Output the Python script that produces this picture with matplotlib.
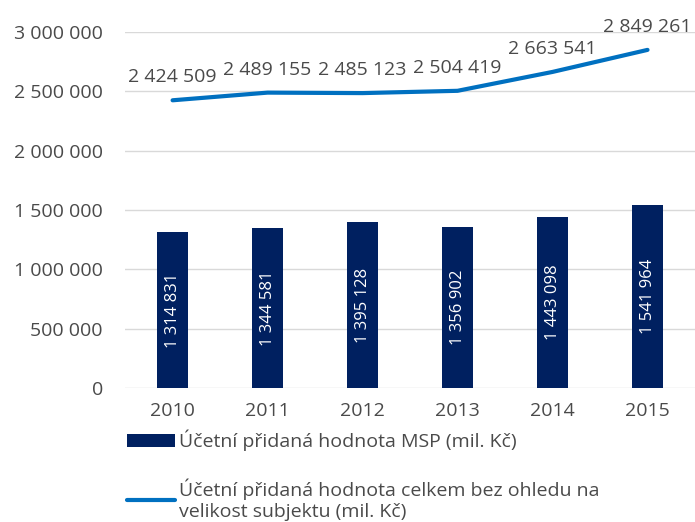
import matplotlib.pyplot as plt
from matplotlib.ticker import FuncFormatter

# Data
years = ['2010', '2011', '2012', '2013', '2014', '2015']
msp_values = [1314831, 1344581, 1395128, 1356902, 1443098, 1541964]
total_values = [2424509, 2489155, 2485123, 2504419, 2663541, 2849261]

msp_label = 'Účetní přidaná hodnota MSP (mil. Kč)'
total_label = 'Účetní přidaná hodnota celkem bez ohledu na\nvelikost subjektu (mil. Kč)'


def fmt(v):
    return f'{int(v):,}'.replace(',', ' ')


plt.rcParams['font.family'] = ['Open Sans', 'DejaVu Sans']
text_color = '#4a4a4a'

fig = plt.figure(figsize=(6.95, 5.22), dpi=100)
ax = fig.add_axes([0.18, 0.2567, 0.82, 0.682])

x = range(len(years))
bars = ax.bar(x, msp_values, width=0.32, color='#002060', label=msp_label, zorder=2)
line, = ax.plot(x, total_values, color='#0070C0', linewidth=3,
                solid_capstyle='round', label=total_label, zorder=3)

# labels inside bars
for xi, v in zip(x, msp_values):
    ax.text(xi, v / 2, fmt(v), rotation=90, ha='center', va='center',
            color='white', fontsize=12)

# labels above line
for xi, v in zip(x, total_values):
    ax.annotate(fmt(v), (xi, v), xytext=(0, 10), textcoords='offset points',
                ha='center', va='bottom', fontsize=14, color=text_color,
                annotation_clip=False)

ax.set_ylim(0, 3000000)
ax.set_xlim(-0.5, 5.5)
ax.set_yticks(range(0, 3000001, 500000))
ax.yaxis.set_major_formatter(FuncFormatter(lambda v, p: fmt(v)))
ax.set_xticks(list(x))
ax.set_xticklabels(years)
ax.tick_params(axis='both', length=0, labelsize=14, colors=text_color)
ax.tick_params(axis='x', pad=10)
ax.tick_params(axis='y', pad=16)
ax.grid(axis='y', color='#d9d9d9', linewidth=1, zorder=0)
ax.set_axisbelow(True)
for s in ax.spines.values():
    s.set_visible(False)

leg = fig.legend(handles=[bars, line], loc='upper left',
                 bbox_to_anchor=(0.157, 0.21), frameon=False,
                 fontsize=14, handlelength=2.5, handletextpad=0.2,
                 labelspacing=1.4, labelcolor=text_color)

fig.savefig('out.png', dpi=100)
